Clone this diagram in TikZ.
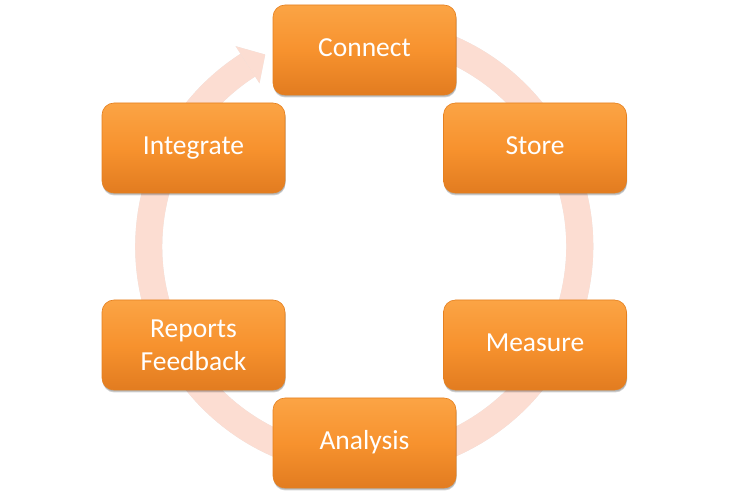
\documentclass[tikz,border=0pt]{standalone}
\usepackage{fontspec}
\setmainfont{Carlito}
\usetikzlibrary{shadows,calc}
\definecolor{ringc}{HTML}{FCDDD2}
\definecolor{btop}{HTML}{FBA445}
\definecolor{bmid}{HTML}{F7922E}
\definecolor{bbot}{HTML}{E27C20}
\definecolor{bedge}{HTML}{E5801F}
\tikzset{
  stagebox/.style={rectangle, rounded corners=12pt, minimum width=183pt, minimum height=90pt,
    top color=btop, bottom color=bbot, middle color=bmid, draw=bedge, line width=0.6pt,
    text=white, font=\fontsize{27.5}{33}\selectfont, align=center, inner sep=0pt,
    drop shadow={shadow xshift=0.5pt, shadow yshift=-2.5pt, opacity=0.18, fill=black},
    drop shadow={shadow xshift=0.5pt, shadow yshift=-1.5pt, opacity=0.15, fill=black}},
  oneline/.style={text height=19pt, text depth=5pt},
  ringline/.style={draw=ringc, line width=27pt},
  ringshadow/.style={draw=black!60, opacity=0.18, line width=27pt}
}
\begin{document}
\begin{tikzpicture}[x=1pt,y=1pt]
\useasboundingbox (0,0) rectangle (729,498);
\coordinate (c) at (364.25,251.5);
\coordinate (tip) at ($(c)+(117.3:216pt)$);
\coordinate (b1) at ($(c)+(122.7:238pt)$);
\coordinate (b2) at ($(c)+(122.7:194pt)$);
% ring shadow
\begin{scope}[shift={(1.5,-1.5)}]
  \path[ringshadow] (c) ++(80:215.5pt) arc[start angle=80, end angle=-237.3, radius=215.5pt];
  \fill[black!60, opacity=0.18] (tip) -- (b1) -- (b2) -- cycle;
\end{scope}
% ring
\path[ringline] (c) ++(80:215.5pt) arc[start angle=80, end angle=-237.3, radius=215.5pt];
\fill[ringc] (tip) -- (b1) -- (b2) -- cycle;
% boxes
\node[stagebox, oneline] (connect) at (364.5,448) {Connect};
\node[stagebox, oneline] (store) at (535,350) {Store};
\node[stagebox, oneline] (measure) at (535,153) {Measure};
\node[stagebox, oneline] (analysis) at (364.5,55) {Analysis};
\node[stagebox] (reports) at (193.5,153) {Reports\\Feedback};
\node[stagebox, oneline] (integrate) at (193.5,350) {Integrate};
\end{tikzpicture}
\end{document}
